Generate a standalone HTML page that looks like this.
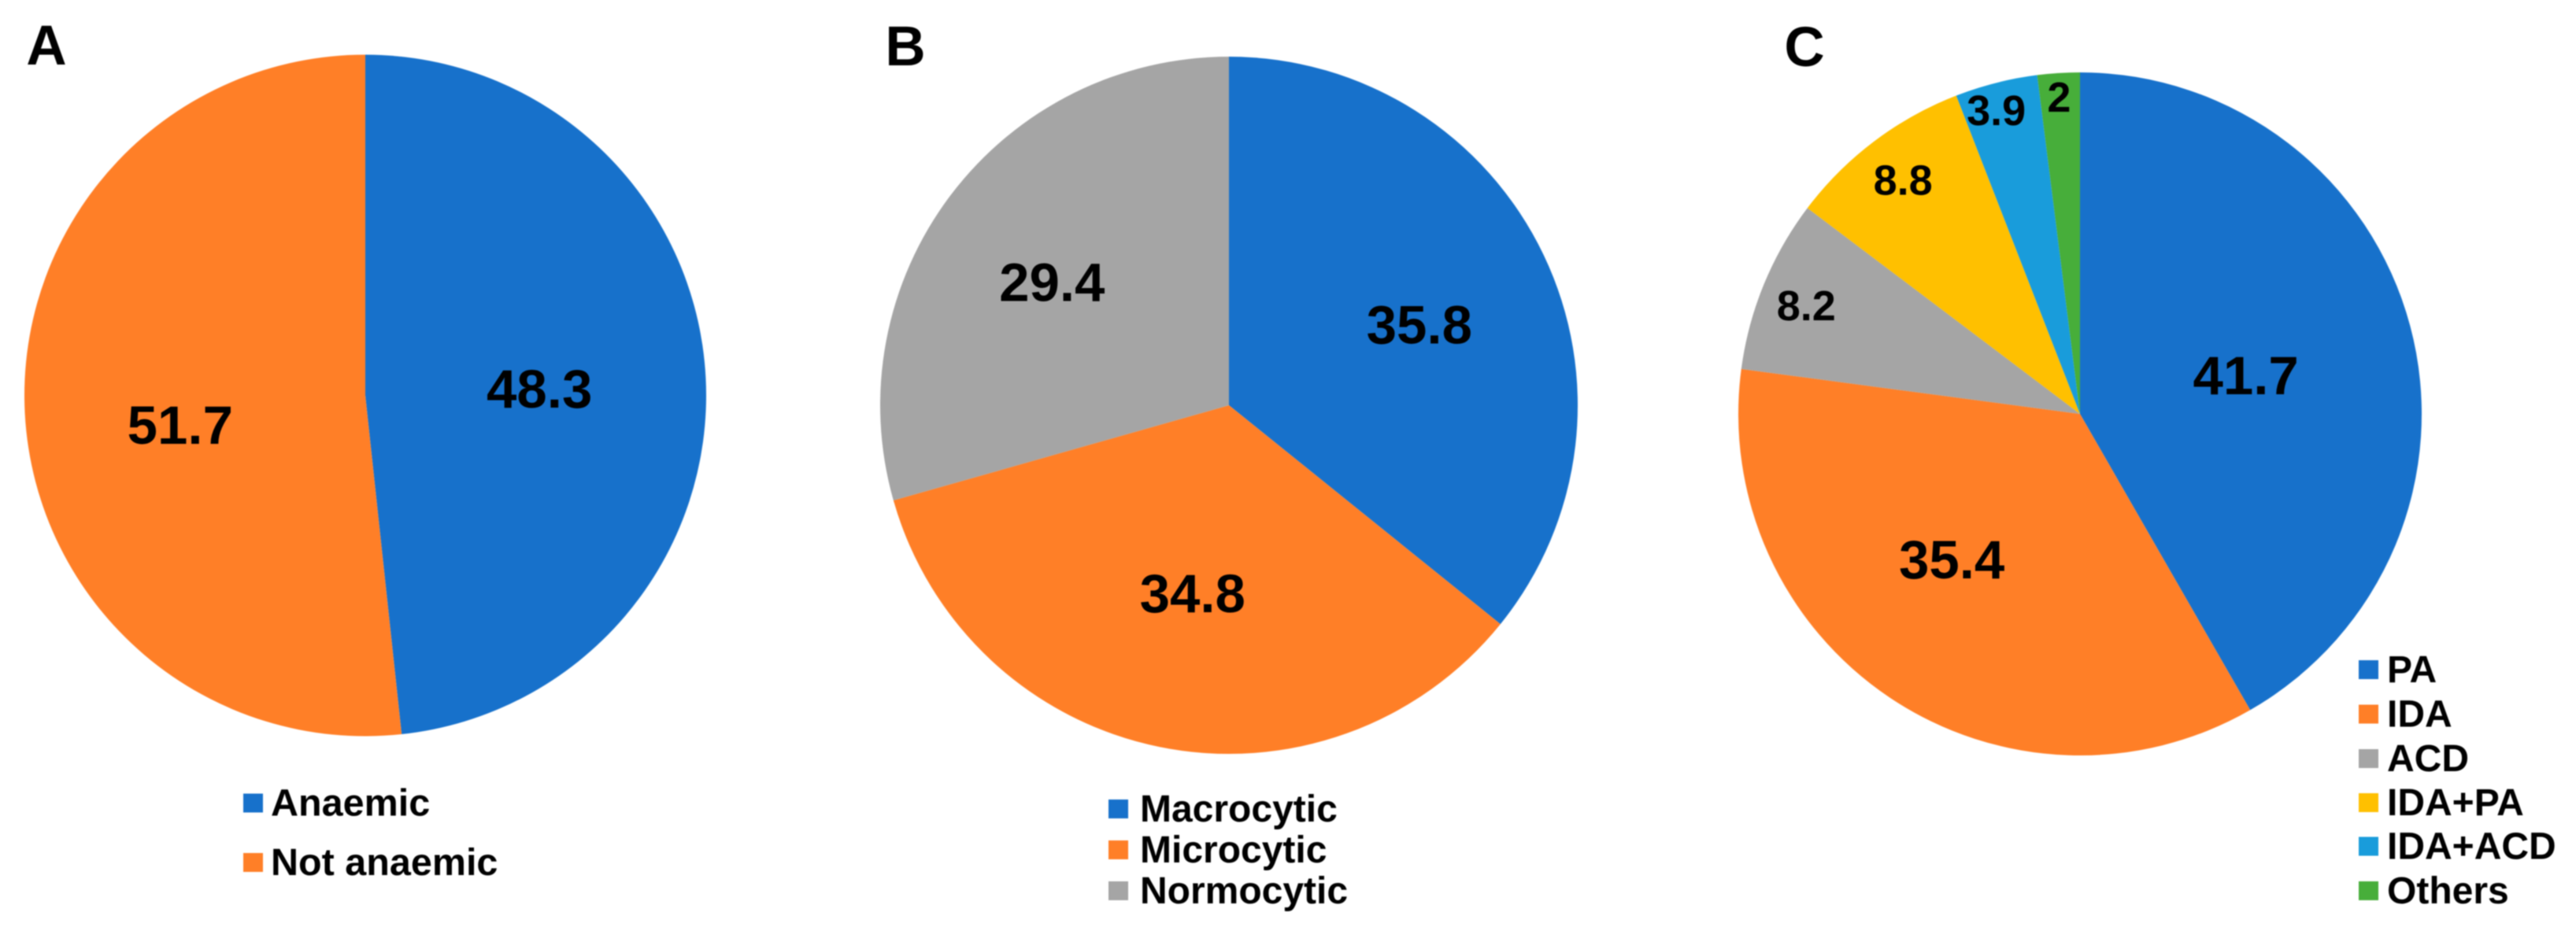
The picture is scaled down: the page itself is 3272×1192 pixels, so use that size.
<!DOCTYPE html>
<html lang="en">
<head>
<meta charset="utf-8">
<title>Anaemia pie charts</title>
<style>
html,body{margin:0;padding:0;background:#fff;width:3272px;height:1192px;overflow:hidden}
svg{display:block;filter:blur(0.7px)}
text{font-family:"Liberation Sans",Arial,sans-serif;font-weight:700;fill:#000}
</style>
</head>
<body>
<svg id="chart" width="3272" height="1192" viewBox="0 0 3272 1192" xmlns="http://www.w3.org/2000/svg">
  <text x="59" y="82" font-size="71" text-anchor="middle">A</text>
  <text x="1150" y="83" font-size="71" text-anchor="middle">B</text>
  <text x="2292" y="84" font-size="71" text-anchor="middle">C</text>
</svg>
<script>
const categoriesA = ['Anaemic', 'Not anaemic'];
const valuesA = [48.3, 51.7];
const categoriesB = ['Macrocytic', 'Microcytic', 'Normocytic'];
const valuesB = [35.8, 34.8, 29.4];
const categoriesC = ['PA', 'IDA', 'ACD', 'IDA+PA', 'IDA+ACD', 'Others'];
const valuesC = [41.7, 35.4, 8.2, 8.8, 3.9, 2];

const SVGNS = 'http://www.w3.org/2000/svg';
const palette = ['#1771cb', '#ff7f27', '#a5a5a5', '#ffc000', '#199cdb', '#47ae3a'];
const svg = document.getElementById('chart');

function polar(cx, cy, r, deg) {
  const a = deg * Math.PI / 180;
  return [cx + r * Math.sin(a), cy - r * Math.cos(a)];
}

function drawPie(categories, values, geo, nudges, labelSizes, legend) {
  const total = values.reduce((s, v) => s + v, 0);
  let acc = 0;
  values.forEach((v, i) => {
    const start = acc / total * 360;
    const end = (acc + v) / total * 360;
    acc += v;
    const p0 = polar(geo.cx, geo.cy, geo.r, start);
    const p1 = polar(geo.cx, geo.cy, geo.r, end);
    const large = end - start > 180 ? 1 : 0;
    const path = document.createElementNS(SVGNS, 'path');
    path.setAttribute('d', 'M' + geo.cx + ' ' + geo.cy + 'L' + p0[0] + ' ' + p0[1] + 'A' + geo.r + ' ' + geo.r + ' 0 ' + large + ' 1 ' + p1[0] + ' ' + p1[1] + 'Z');
    path.setAttribute('fill', palette[i]);
    
    
    svg.appendChild(path);
  });

  acc = 0;
  values.forEach((v, i) => {
    const mid = (acc + v / 2) / total * 360;
    acc += v;
    const p = polar(geo.cx, geo.cy, geo.r * 0.5, mid);
    const t = document.createElementNS(SVGNS, 'text');
    const size = labelSizes[i];
    t.setAttribute('x', p[0] + nudges[i][0]);
    t.setAttribute('y', p[1] + nudges[i][1] + size * 0.36);
    t.setAttribute('font-size', size);
    t.setAttribute('text-anchor', 'middle');
    
    
    t.textContent = String(v);
    svg.appendChild(t);
  });

  categories.forEach((c, i) => {
    const rowY = legend.rows[i];
    const sq = document.createElementNS(SVGNS, 'rect');
    sq.setAttribute('x', legend.x);
    sq.setAttribute('y', rowY - 12);
    sq.setAttribute('width', 25);
    sq.setAttribute('height', 24);
    sq.setAttribute('fill', palette[i]);
    
    
    svg.appendChild(sq);
    const t = document.createElementNS(SVGNS, 'text');
    t.setAttribute('x', legend.textX);
    t.setAttribute('y', rowY + 16);
    t.setAttribute('font-size', legend.size);
    
    
    t.textContent = c;
    svg.appendChild(t);
  });
}

drawPie(categoriesA, valuesA, {cx: 464, cy: 502.5, r: 433},
  [[5, 2], [-19, 25]], [69, 69],
  {x: 309, textX: 344, size: 48.5, rows: [1020.5, 1096]});
drawPie(categoriesB, valuesB, {cx: 1561, cy: 515, r: 443},
  [[42, -8], [-2, 21], [-48, -24]], [69, 69, 69],
  {x: 1408, textX: 1448, size: 48, rows: [1028, 1080, 1132]});
drawPie(categoriesC, valuesC, {cx: 2642, cy: 526, r: 434},
  [[1, 6], [-42, 4], [-147, -56], [-94, -125], [-53, -176], [-13, -187]], [69, 69, 54, 54, 54, 54],
  {x: 2996, textX: 3032, size: 48, rows: [851, 907.5, 964, 1020, 1075.5, 1132]});
</script>
</body>
</html>
